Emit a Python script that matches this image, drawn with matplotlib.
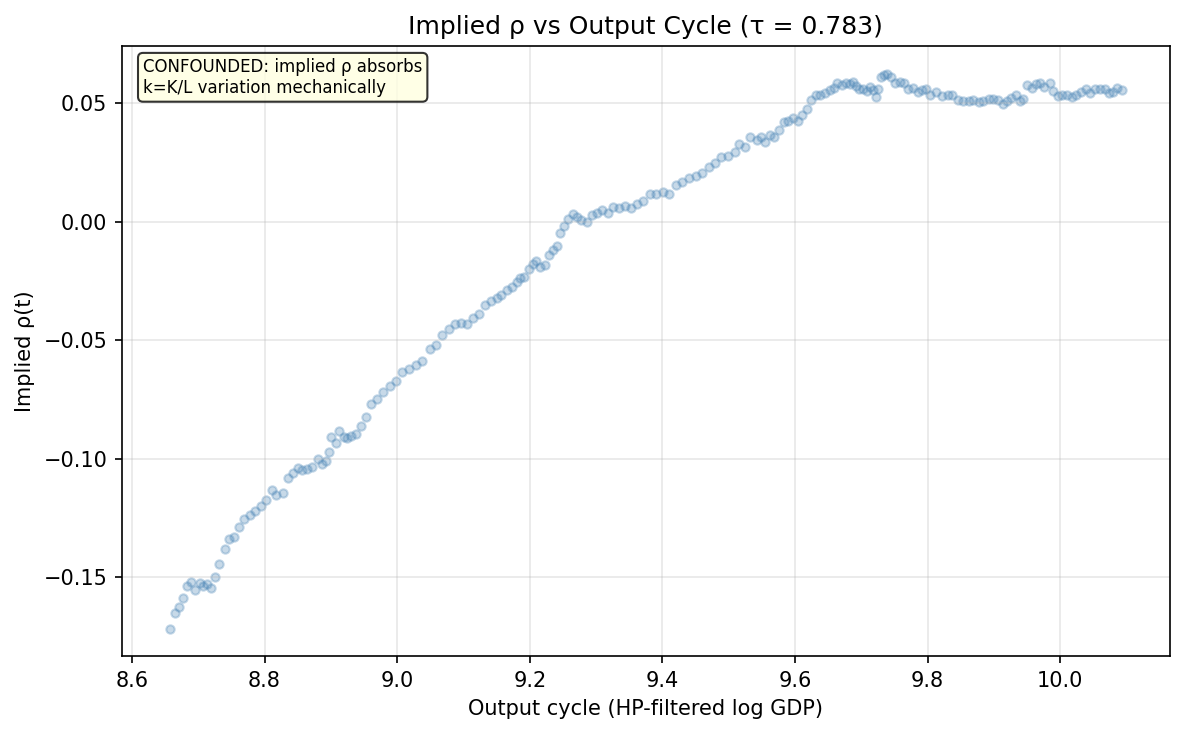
import numpy as np
import matplotlib
matplotlib.use("Agg")
import matplotlib.pyplot as plt

# output cycle (HP-filtered log GDP)
cycle = [
    8.657, 8.665, 8.671, 8.677, 8.683, 8.689, 8.695, 8.702, 8.708, 8.714,
    8.719, 8.726, 8.731, 8.740, 8.746, 8.754, 8.761, 8.769, 8.778, 8.786,
    8.795, 8.803, 8.811, 8.818, 8.828, 8.835, 8.843, 8.850, 8.857, 8.864,
    8.872, 8.880, 8.887, 8.893, 8.897, 8.901, 8.908, 8.913, 8.920, 8.925,
    8.931, 8.938, 8.945, 8.953, 8.960, 8.969, 8.978, 8.989, 8.998, 9.008,
    9.018, 9.028, 9.038, 9.049, 9.058, 9.068, 9.078, 9.088, 9.097, 9.106,
    9.115, 9.124, 9.133, 9.142, 9.150, 9.157, 9.165, 9.173, 9.180, 9.185,
    9.191, 9.199, 9.205, 9.209, 9.216, 9.223, 9.229, 9.235, 9.241, 9.246,
    9.252, 9.258, 9.265, 9.271, 9.278, 9.286, 9.294, 9.302, 9.309, 9.318,
    9.326, 9.334, 9.343, 9.353, 9.362, 9.371, 9.381, 9.390, 9.401, 9.410,
    9.420, 9.429, 9.440, 9.450, 9.460, 9.470, 9.479, 9.489, 9.499, 9.509,
    9.515, 9.525, 9.532, 9.542, 9.549, 9.555, 9.562, 9.569, 9.576, 9.583,
    9.590, 9.597, 9.604, 9.611, 9.618, 9.624, 9.631, 9.637, 9.645, 9.652,
    9.658, 9.664, 9.671, 9.677, 9.683, 9.688, 9.692, 9.697, 9.703, 9.708,
    9.713, 9.718, 9.722, 9.725, 9.729, 9.734, 9.739, 9.744, 9.751, 9.758,
    9.765, 9.771, 9.778, 9.785, 9.791, 9.798, 9.803, 9.813, 9.822, 9.830,
    9.837, 9.846, 9.854, 9.862, 9.869, 9.877, 9.884, 9.892, 9.899, 9.906,
    9.913, 9.919, 9.926, 9.933, 9.939, 9.944, 9.950, 9.957, 9.964, 9.970,
    9.976, 9.984, 9.989, 9.996, 10.003, 10.010, 10.017, 10.024, 10.031, 10.038,
    10.045, 10.052, 10.060, 10.067, 10.073, 10.079, 10.086, 10.093,
]

# implied rho(t)
rho = [
    -0.1717, -0.1651, -0.1627, -0.1588, -0.1536, -0.1519, -0.1553, -0.1524, -0.1539, -0.1527,
    -0.1547, -0.1499, -0.1444, -0.1380, -0.1339, -0.1330, -0.1288, -0.1254, -0.1238, -0.1221,
    -0.1198, -0.1174, -0.1131, -0.1153, -0.1146, -0.1081, -0.1060, -0.1039, -0.1049, -0.1043,
    -0.1035, -0.1001, -0.1024, -0.1011, -0.0970, -0.0908, -0.0934, -0.0882, -0.0910, -0.0914,
    -0.0906, -0.0896, -0.0862, -0.0823, -0.0769, -0.0748, -0.0719, -0.0692, -0.0670, -0.0634,
    -0.0620, -0.0605, -0.0588, -0.0537, -0.0520, -0.0477, -0.0453, -0.0432, -0.0429, -0.0433,
    -0.0406, -0.0391, -0.0351, -0.0335, -0.0322, -0.0308, -0.0288, -0.0274, -0.0254, -0.0238,
    -0.0233, -0.0200, -0.0177, -0.0165, -0.0191, -0.0184, -0.0141, -0.0119, -0.0101, -0.0048,
    -0.0018, 0.0011, 0.0034, 0.0020, 0.0007, 0.0001, 0.0028, 0.0039, 0.0048, 0.0037,
    0.0063, 0.0058, 0.0068, 0.0060, 0.0076, 0.0089, 0.0117, 0.0118, 0.0124, 0.0117,
    0.0155, 0.0169, 0.0187, 0.0194, 0.0205, 0.0233, 0.0250, 0.0274, 0.0277, 0.0295,
    0.0329, 0.0315, 0.0357, 0.0345, 0.0360, 0.0336, 0.0366, 0.0360, 0.0388, 0.0422,
    0.0425, 0.0439, 0.0427, 0.0451, 0.0476, 0.0514, 0.0535, 0.0537, 0.0546, 0.0556,
    0.0564, 0.0585, 0.0577, 0.0585, 0.0582, 0.0591, 0.0574, 0.0562, 0.0560, 0.0554,
    0.0571, 0.0557, 0.0529, 0.0560, 0.0611, 0.0620, 0.0624, 0.0611, 0.0588, 0.0591,
    0.0588, 0.0560, 0.0565, 0.0549, 0.0557, 0.0562, 0.0537, 0.0549, 0.0532, 0.0537,
    0.0537, 0.0515, 0.0509, 0.0512, 0.0515, 0.0506, 0.0512, 0.0520, 0.0520, 0.0515,
    0.0498, 0.0509, 0.0523, 0.0537, 0.0509, 0.0518, 0.0579, 0.0565, 0.0582, 0.0585,
    0.0568, 0.0585, 0.0551, 0.0532, 0.0535, 0.0535, 0.0526, 0.0537, 0.0549, 0.0560,
    0.0543, 0.0560, 0.0562, 0.0562, 0.0543, 0.0549, 0.0565, 0.0557,
]

tau = 0.783


def plot_implied_rho():
    fig, ax = plt.subplots(figsize=(7.9, 4.9), dpi=150)
    fig.subplots_adjust(left=0.103, right=0.987, top=0.937, bottom=0.107)

    ax.scatter(cycle, rho, s=16, alpha=0.3, color='steelblue')

    ax.set_title(f'Implied ρ vs Output Cycle (τ = {tau:.3f})', fontsize=12)
    ax.set_xlabel('Output cycle (HP-filtered log GDP)')
    ax.set_ylabel('Implied ρ(t)')
    ax.grid(True, alpha=0.3)

    ax.text(0.02, 0.981,
            'CONFOUNDED: implied ρ absorbs\nk=K/L variation mechanically',
            transform=ax.transAxes, fontsize=8, va='top', ha='left',
            bbox=dict(boxstyle='round', facecolor='lightyellow', alpha=0.8))

    fig.savefig('out.png', dpi=150)
    plt.close(fig)


if __name__ == "__main__":
    plot_implied_rho()
